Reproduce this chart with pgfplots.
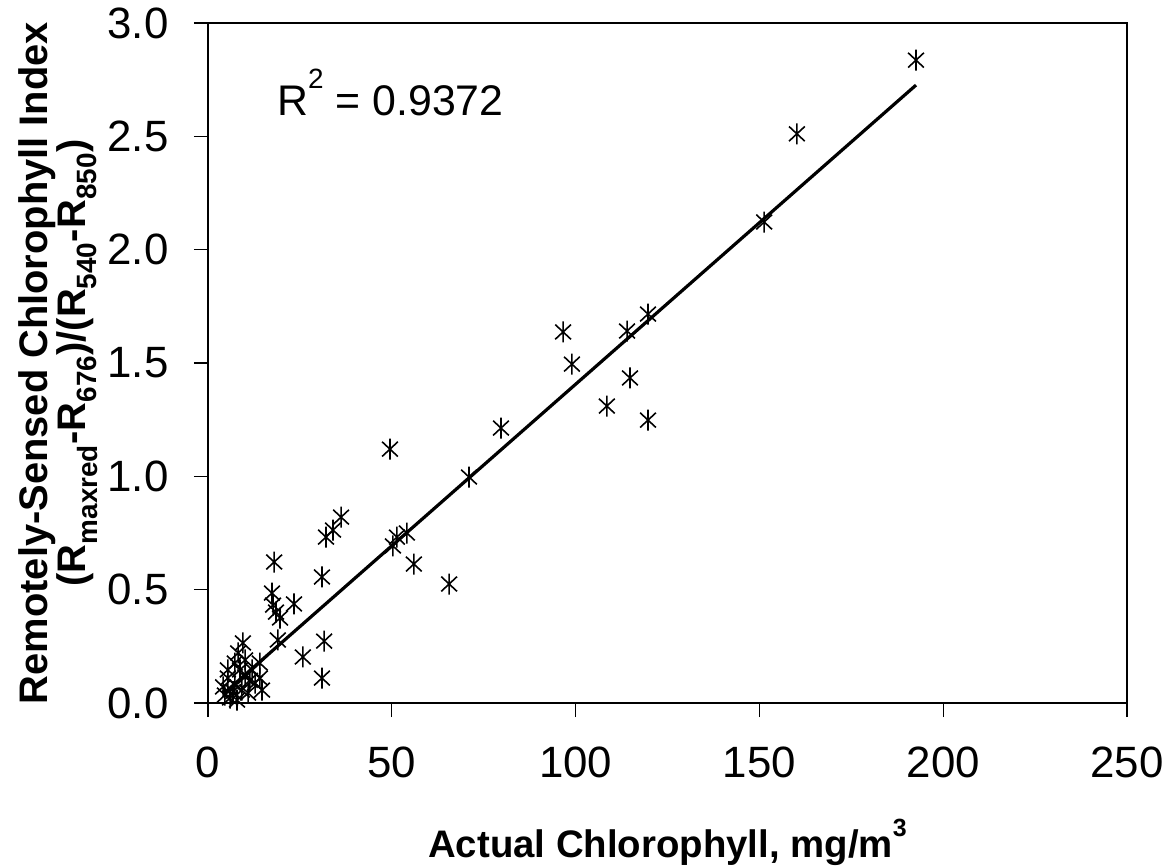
\documentclass[border=0pt]{standalone}
\usepackage{pgfplots}
\pgfplotsset{compat=1.18}
\usepackage{fontspec}
\setmainfont{Liberation Sans}
\pgfdeclareplotmark{xstar}{%
  \pgfpathmoveto{\pgfqpoint{0pt}{\pgfplotmarksize}}%
  \pgfpathlineto{\pgfqpoint{0pt}{-\pgfplotmarksize}}%
  \pgfpathmoveto{\pgfqpoint{-0.75\pgfplotmarksize}{0.7\pgfplotmarksize}}%
  \pgfpathlineto{\pgfqpoint{0.75\pgfplotmarksize}{-0.7\pgfplotmarksize}}%
  \pgfpathmoveto{\pgfqpoint{-0.75\pgfplotmarksize}{-0.7\pgfplotmarksize}}%
  \pgfpathlineto{\pgfqpoint{0.75\pgfplotmarksize}{0.7\pgfplotmarksize}}%
  \pgfusepathqstroke}
\begin{document}
\begin{tikzpicture}
\useasboundingbox (-208bp,-164bp) rectangle (963bp,703bp);
\begin{axis}[
  width=919bp, height=680bp, scale only axis,
  at={(0,0)}, anchor=south west,
  xmin=0, xmax=250, ymin=0, ymax=3,
  xtick={0,50,100,150,200,250},
  ytick={0,0.5,1,1.5,2,2.5,3},
  yticklabel style={xshift=-22bp, /pgf/number format/.cd, fixed, fixed zerofill, precision=1},
  /pgf/number format/assume math mode=true,
  tick align=outside,
  tick pos=left,
  major tick length=14bp,
  axis line style={line width=2bp},
  major tick style={line width=1.3bp, draw=black},
  tick label style={font=\fontsize{44}{48}\selectfont},
  xticklabel style={yshift=-26bp},
  clip=false,
  xlabel={\textbf{Actual Chlorophyll, mg/m\raisebox{0.55em}{\fontsize{25}{25}\selectfont\bfseries 3}}},
  xlabel style={at={(axis description cs:0.5,-0.2044)}, anchor=center, font=\fontsize{38.5}{40}\selectfont},
  ylabel={\textbf{Remotely-Sensed Chlorophyll Index}\\\textbf{(R\textsubscript{maxred}-R\textsubscript{676})/(R\textsubscript{540}-R\textsubscript{850})}},
  ylabel style={at={(axis description cs:-0.1632,0.5)}, anchor=center, align=center, font=\fontsize{40}{39}\selectfont},
]
\addplot[only marks, mark=xstar, mark size=10.5bp, mark options={line width=1.6bp, black}] coordinates {
(192.6,2.836) (160.2,2.511) (151.3,2.122) (119.7,1.716) (114.0,1.641)
(96.6,1.637) (99.0,1.495) (114.8,1.434) (108.5,1.310) (119.7,1.248)
(79.7,1.213) (49.5,1.120) (71.0,0.997) (36.2,0.820) (34.0,0.763)
(32.1,0.732) (51.4,0.732) (54.1,0.750) (50.3,0.693) (56.0,0.613)
(65.6,0.525) (18.0,0.622) (31.0,0.556) (17.4,0.485) (17.7,0.432)
(23.4,0.437) (19.6,0.375) (18.5,0.401) (19.0,0.278) (31.6,0.273)
(25.8,0.203) (31.0,0.110)
(9.5,0.265) (8.2,0.221) (10.1,0.190) (7.3,0.176) (14.1,0.176)
(12.0,0.146) (5.4,0.146) (10.1,0.115) (5.4,0.110) (14.1,0.110)
(12.8,0.088) (7.3,0.079) (4.1,0.071) (9.2,0.057) (10.9,0.044)
(4.6,0.035) (6.0,0.022) (7.9,0.013) (14.7,0.057) (11.4,0.100)
(8.7,0.146) (6.8,0.050)
};
\addplot[black, line width=3.2bp] coordinates {(4.5,0.045) (192.6,2.726)};
\node[anchor=base west, inner sep=0pt, font=\fontsize{43}{48}\selectfont] at (axis cs:18.8,2.594) {R\raisebox{0.62em}{\fontsize{28}{28}\selectfont 2} = 0.9372};
\end{axis}
\end{tikzpicture}
\end{document}
